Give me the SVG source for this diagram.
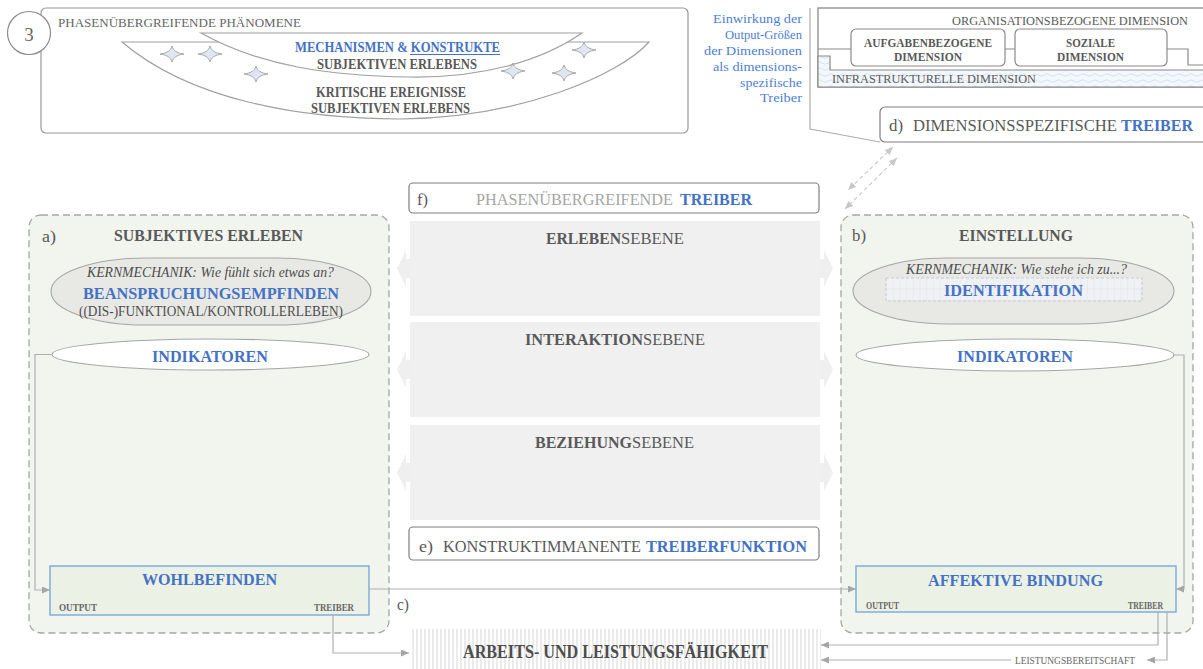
<svg xmlns="http://www.w3.org/2000/svg" width="1203" height="669" viewBox="0 0 1203 669">
  <style>
    text { font-family: "Liberation Serif", "Times New Roman", serif; }
    .b { font-weight: bold; }
    .i { font-style: italic; }
    .dk { fill: #595959; }
    .md { fill: #666666; }
    .lt { fill: #a6a6a6; }
    .bl { fill: #4472c4; }
    .conn { fill: none; stroke: #b0b0b0; stroke-width: 1.2; }
    .panel { fill: #f1f5ee; stroke: #a6a6a6; stroke-width: 1.3; stroke-dasharray: 7 4; }
    .band { fill: #f0f0f0; }
    .lbox { fill: #ffffff; stroke: #7f7f7f; stroke-width: 1.2; }
    .outbox { fill: #ebf1e4; stroke: #6fa3da; stroke-width: 1.3; }
    .star { fill: #dfe6f2; stroke: #9a9a9a; stroke-width: 0.8; }
  </style>
  <defs>
    <marker id="ah" viewBox="0 0 8 7" refX="8" refY="3.5" markerWidth="8" markerHeight="7" markerUnits="userSpaceOnUse" orient="auto-start-reverse">
      <path d="M0,0 L8,3.5 L0,7 Z" fill="#a6a6a6"/>
    </marker>
    <marker id="ahl" viewBox="0 0 8 7" refX="8" refY="3.5" markerWidth="8" markerHeight="7" markerUnits="userSpaceOnUse" orient="auto-start-reverse">
      <path d="M0,0 L8,3.5 L0,7 Z" fill="#c8c8c8"/>
    </marker>
    <path id="spark" d="M0,-8 Q1.3,-1.3 12,0 Q1.3,1.3 0,8 Q-1.3,1.3 -12,0 Q-1.3,-1.3 0,-8 Z"/>
    <pattern id="stripes" width="4" height="10" patternUnits="userSpaceOnUse">
      <rect width="4" height="10" fill="#ffffff"/>
      <rect width="2" height="10" fill="#ebebeb"/>
    </pattern>
    <pattern id="waves" width="12" height="6" patternUnits="userSpaceOnUse">
      <rect width="12" height="6" fill="#f4f8fc"/>
      <path d="M0,3 Q3,0.5 6,3 T12,3" fill="none" stroke="#c9dcef" stroke-width="0.8"/>
    </pattern>
    <pattern id="grid" width="6.7" height="11.5" patternUnits="userSpaceOnUse" x="886" y="278">
      <rect width="6.7" height="11.5" fill="#eff1f5"/>
      <path d="M0,0 V11.5 M0,11.5 H6.7" fill="none" stroke="#d9dde8" stroke-width="0.7"/>
    </pattern>
  </defs>

  <!-- phase-spanning phenomena -->
  <g id="phaenomene">
    <rect x="41" y="8" width="647" height="125" rx="5" fill="#ffffff" stroke="#9a9a9a" stroke-width="1.2"/>
    <circle cx="29" cy="33" r="21.5" fill="#ffffff" stroke="#8a8a8a" stroke-width="1.2"/>
    <text x="29" y="41" font-size="19" text-anchor="middle" class="md">3</text>
    <text x="58" y="27" font-size="13.5" class="md" textLength="243" lengthAdjust="spacingAndGlyphs">PHASENÜBERGREIFENDE PHÄNOMENE</text>
    <path d="M122,42 L649,42 C620,75 520,118 400,119 C300,119 190,100 122,42 Z" fill="#ffffff" stroke="#a0a0a0" stroke-width="1.2"/>
    <path d="M201,33 L582,33 C540,62 480,78 410,77 C330,76 260,66 201,33 Z" fill="#ffffff" stroke="#a0a0a0" stroke-width="1.2"/>
    <use href="#spark" x="172" y="54" class="star"/>
    <use href="#spark" x="210" y="54" class="star"/>
    <use href="#spark" x="256" y="74" class="star"/>
    <use href="#spark" x="513" y="71" class="star"/>
    <use href="#spark" x="564" y="73" class="star"/>
    <use href="#spark" x="584" y="50" class="star"/>
    <text x="295" y="52" font-size="14.5" class="b bl" textLength="205" lengthAdjust="spacingAndGlyphs">MECHANISMEN &amp; KONSTRUKTE</text>
    <line x1="410" y1="54.5" x2="500" y2="54.5" stroke="#4472c4" stroke-width="1"/>
    <text x="317" y="68.5" font-size="14.5" class="b dk" textLength="160" lengthAdjust="spacingAndGlyphs">SUBJEKTIVEN ERLEBENS</text>
    <text x="316" y="96.5" font-size="14" class="b dk" textLength="150" lengthAdjust="spacingAndGlyphs">KRITISCHE EREIGNISSE</text>
    <text x="311" y="112.5" font-size="14" class="b dk" textLength="159" lengthAdjust="spacingAndGlyphs">SUBJEKTIVEN ERLEBENS</text>
  </g>

  <!-- output effect note -->
  <g id="einwirkung" font-size="13.5" fill="#4f80d2" text-anchor="end">
    <text x="802" y="23" textLength="89" lengthAdjust="spacingAndGlyphs">Einwirkung der</text>
    <text x="802" y="39" textLength="77" lengthAdjust="spacingAndGlyphs">Output-Größen</text>
    <text x="802" y="55" textLength="98" lengthAdjust="spacingAndGlyphs">der Dimensionen</text>
    <text x="802" y="71" textLength="89" lengthAdjust="spacingAndGlyphs">als dimensions-</text>
    <text x="802" y="87" textLength="62" lengthAdjust="spacingAndGlyphs">spezifische</text>
    <text x="802" y="102" textLength="42" lengthAdjust="spacingAndGlyphs">Treiber</text>
  </g>

  <!-- dimensions -->
  <g id="dimensionen">
    <rect x="818" y="8" width="400" height="79" fill="#ffffff" stroke="#8a8a8a" stroke-width="1.3"/>
    <path d="M818,56 L830,56 L830,70 L1210,70 L1210,87 L818,87 Z" fill="url(#waves)" stroke="#8a8a8a" stroke-width="1.2"/>
    <path d="M818,49 L851,49 M1005,49 L1015,49 M1167,49 L1188,49 L1188,65 L1210,65" fill="none" stroke="#8a8a8a" stroke-width="1.2"/>
    <text x="952" y="25" font-size="13" class="dk" textLength="236" lengthAdjust="spacingAndGlyphs">ORGANISATIONSBEZOGENE DIMENSION</text>
    <rect x="851" y="29" width="154" height="37" rx="5" fill="#ffffff" stroke="#8a8a8a" stroke-width="1.2"/>
    <text x="864" y="46.5" font-size="11.5" class="b dk" textLength="128" lengthAdjust="spacingAndGlyphs">AUFGABENBEZOGENE</text>
    <text x="894" y="61" font-size="11.5" class="b dk" textLength="68" lengthAdjust="spacingAndGlyphs">DIMENSION</text>
    <rect x="1015" y="29" width="152" height="37" rx="5" fill="#ffffff" stroke="#8a8a8a" stroke-width="1.2"/>
    <text x="1066" y="46.5" font-size="11.5" class="b dk" textLength="49" lengthAdjust="spacingAndGlyphs">SOZIALE</text>
    <text x="1057" y="61" font-size="11.5" class="b dk" textLength="67" lengthAdjust="spacingAndGlyphs">DIMENSION</text>
    <text x="832" y="83" font-size="13" class="dk" textLength="204" lengthAdjust="spacingAndGlyphs">INFRASTRUKTURELLE DIMENSION</text>
  </g>

  <!-- d) dimension-specific drivers -->
  <g id="treiber-d">
    <rect x="880" y="107" width="340" height="35" rx="5" class="lbox"/>
    <text x="889" y="131" font-size="17" class="dk" textLength="14" lengthAdjust="spacingAndGlyphs">d)</text>
    <text x="913" y="131" font-size="17" class="dk" textLength="204" lengthAdjust="spacingAndGlyphs">DIMENSIONSSPEZIFISCHE</text>
    <text x="1121" y="131" font-size="17" class="b bl" textLength="72" lengthAdjust="spacingAndGlyphs">TREIBER</text>
  </g>

  <!-- a) subjective experience -->
  <g id="panel-a">
    <rect x="29" y="215" width="360" height="418" rx="12" class="panel"/>
    <text x="42" y="242" font-size="17" class="dk" textLength="14" lengthAdjust="spacingAndGlyphs">a)</text>
    <text x="114" y="241" font-size="17" class="b dk" textLength="189" lengthAdjust="spacingAndGlyphs">SUBJEKTIVES ERLEBEN</text>
    <rect x="51" y="258" width="320" height="67" rx="95" ry="33.5" fill="#e8e9e5" stroke="#a6a6a6" stroke-width="1.1"/>
    <text x="87" y="277" font-size="14.5" class="i" fill="#4d4d4d" textLength="247" lengthAdjust="spacingAndGlyphs">KERNMECHANIK: Wie fühlt sich etwas an?</text>
    <text x="83" y="299" font-size="17.5" class="b bl" textLength="256" lengthAdjust="spacingAndGlyphs">BEANSPRUCHUNGSEMPFINDEN</text>
    <text x="79" y="316" font-size="14" fill="#4d4d4d" textLength="264" lengthAdjust="spacingAndGlyphs">((DIS-)FUNKTIONAL/KONTROLLERLEBEN)</text>
    <ellipse cx="210.5" cy="354.5" rx="158.5" ry="15.5" fill="#ffffff" stroke="#a6a6a6" stroke-width="1.1"/>
    <text x="152" y="362" font-size="17.5" class="b bl" textLength="116" lengthAdjust="spacingAndGlyphs">INDIKATOREN</text>
    <rect x="50" y="566" width="319" height="49" class="outbox"/>
    <text x="142" y="585" font-size="17.5" class="b bl" textLength="135" lengthAdjust="spacingAndGlyphs">WOHLBEFINDEN</text>
    <text x="59" y="611" font-size="10" class="b md" textLength="38" lengthAdjust="spacingAndGlyphs">OUTPUT</text>
    <text x="314" y="611" font-size="10" class="b md" textLength="40" lengthAdjust="spacingAndGlyphs">TREIBER</text>
  </g>

  <!-- b) attitude -->
  <g id="panel-b">
    <rect x="841" y="215" width="352" height="418" rx="12" class="panel"/>
    <text x="852" y="241" font-size="17" class="dk" textLength="14" lengthAdjust="spacingAndGlyphs">b)</text>
    <text x="959" y="241" font-size="17" class="b dk" textLength="114" lengthAdjust="spacingAndGlyphs">EINSTELLUNG</text>
    <rect x="853" y="258" width="321" height="66" rx="95" ry="33" fill="#e8e9e5" stroke="#a6a6a6" stroke-width="1.1"/>
    <text x="906" y="274" font-size="14.5" class="i" fill="#4d4d4d" textLength="221" lengthAdjust="spacingAndGlyphs">KERNMECHANIK: Wie stehe ich zu...?</text>
    <rect x="886" y="278" width="256" height="23" fill="url(#grid)" stroke="#c4c4c4" stroke-width="0.8" stroke-dasharray="3 2"/>
    <text x="944" y="296" font-size="17.5" class="b bl" textLength="139" lengthAdjust="spacingAndGlyphs">IDENTIFIKATION</text>
    <ellipse cx="1015" cy="355" rx="159" ry="16" fill="#ffffff" stroke="#a6a6a6" stroke-width="1.1"/>
    <text x="957" y="362" font-size="17.5" class="b bl" textLength="116" lengthAdjust="spacingAndGlyphs">INDIKATOREN</text>
    <rect x="856" y="566" width="320" height="46" class="outbox"/>
    <text x="928" y="586" font-size="17.5" class="b bl" textLength="175" lengthAdjust="spacingAndGlyphs">AFFEKTIVE BINDUNG</text>
    <text x="866" y="609" font-size="9.5" class="b md" textLength="33" lengthAdjust="spacingAndGlyphs">OUTPUT</text>
    <text x="1128" y="609" font-size="9.5" class="b md" textLength="35" lengthAdjust="spacingAndGlyphs">TREIBER</text>
  </g>

  <!-- f) phase-spanning drivers -->
  <g id="treiber-f">
    <rect x="409" y="183" width="410" height="30" rx="4" class="lbox"/>
    <text x="417" y="205" font-size="16.5" class="dk" textLength="11" lengthAdjust="spacingAndGlyphs">f)</text>
    <text x="476" y="205" font-size="16.5" class="lt" textLength="197" lengthAdjust="spacingAndGlyphs">PHASENÜBERGREIFENDE</text>
    <text x="680" y="205" font-size="16.5" class="b bl" textLength="72" lengthAdjust="spacingAndGlyphs">TREIBER</text>
  </g>

  <!-- interaction levels -->
  <g id="ebenen" fill="#efefef">
    <path d="M397,268.5 L406,250 L406,259 L824,259 L824,250 L833,268.5 L824,287 L824,278 L406,278 L406,287 Z"/>
    <rect x="410" y="221" width="410" height="95" class="band"/>
    <path d="M397,369.5 L406,351 L406,360 L824,360 L824,351 L833,369.5 L824,388 L824,379 L406,379 L406,388 Z"/>
    <rect x="410" y="322" width="410" height="95" class="band"/>
    <path d="M397,472.5 L406,454 L406,463 L824,463 L824,454 L833,472.5 L824,491 L824,482 L406,482 L406,491 Z"/>
    <rect x="410" y="425" width="410" height="95" class="band"/>
    <text x="546" y="244" font-size="17" class="b dk" textLength="75" lengthAdjust="spacingAndGlyphs">ERLEBEN</text>
    <text x="621" y="244" font-size="17" class="dk" textLength="63" lengthAdjust="spacingAndGlyphs">SEBENE</text>
    <text x="525" y="345" font-size="17" class="b dk" textLength="118" lengthAdjust="spacingAndGlyphs">INTERAKTION</text>
    <text x="643" y="345" font-size="17" class="dk" textLength="62" lengthAdjust="spacingAndGlyphs">SEBENE</text>
    <text x="535" y="448" font-size="17" class="b dk" textLength="97" lengthAdjust="spacingAndGlyphs">BEZIEHUNG</text>
    <text x="632" y="448" font-size="17" class="dk" textLength="62" lengthAdjust="spacingAndGlyphs">SEBENE</text>
  </g>

  <!-- e) construct-immanent driver function -->
  <g id="treiber-e">
    <rect x="409" y="527" width="410" height="33" rx="4" class="lbox"/>
    <text x="419" y="552" font-size="16.5" class="dk" textLength="14" lengthAdjust="spacingAndGlyphs">e)</text>
    <text x="443" y="552" font-size="16.5" class="dk" textLength="198" lengthAdjust="spacingAndGlyphs">KONSTRUKTIMMANENTE</text>
    <text x="646" y="552" font-size="16.5" class="b bl" textLength="161" lengthAdjust="spacingAndGlyphs">TREIBERFUNKTION</text>
  </g>

  <!-- work and performance capacity -->
  <g id="leistung">
    <rect x="411" y="629" width="410" height="45" fill="url(#stripes)"/>
    <text x="463" y="658" font-size="18" class="b" fill="#4d4d4d" textLength="305" lengthAdjust="spacingAndGlyphs">ARBEITS- UND LEISTUNGSFÄHIGKEIT</text>
  </g>

  <!-- connectors -->
  <g id="connectors">
    <polyline points="810,8 810,129 880,142" class="conn" stroke="#b8b8b8"/>
    <line x1="893" y1="147" x2="848" y2="190" fill="none" stroke="#c8c8c8" stroke-width="1.1" stroke-dasharray="4 3" marker-start="url(#ahl)" marker-end="url(#ahl)"/>
    <line x1="897" y1="158" x2="845" y2="209" fill="none" stroke="#c8c8c8" stroke-width="1.1" stroke-dasharray="4 3" marker-start="url(#ahl)" marker-end="url(#ahl)"/>
    <polyline points="52,354.5 35,354.5 35,590 50,590" class="conn" marker-end="url(#ah)"/>
    <polyline points="1174,355 1184,355 1184,589 1176,589" class="conn" marker-end="url(#ah)"/>
    <line x1="369" y1="589" x2="856" y2="589" class="conn" marker-end="url(#ah)"/>
    <text x="397" y="610" font-size="17" class="dk" textLength="12" lengthAdjust="spacingAndGlyphs">c)</text>
    <polyline points="333,615 333,653 409,653" class="conn" marker-end="url(#ah)"/>
    <polyline points="1158,612 1158,645 821,645" class="conn" marker-end="url(#ah)"/>
    <polyline points="1167,612 1167,660 1147,660" class="conn" marker-end="url(#ah)"/>
    <line x1="1011" y1="660" x2="821" y2="660" class="conn" marker-end="url(#ah)"/>
    <text x="1015" y="664" font-size="10" class="md" textLength="120" lengthAdjust="spacingAndGlyphs">LEISTUNGSBEREITSCHAFT</text>
  </g>
</svg>
